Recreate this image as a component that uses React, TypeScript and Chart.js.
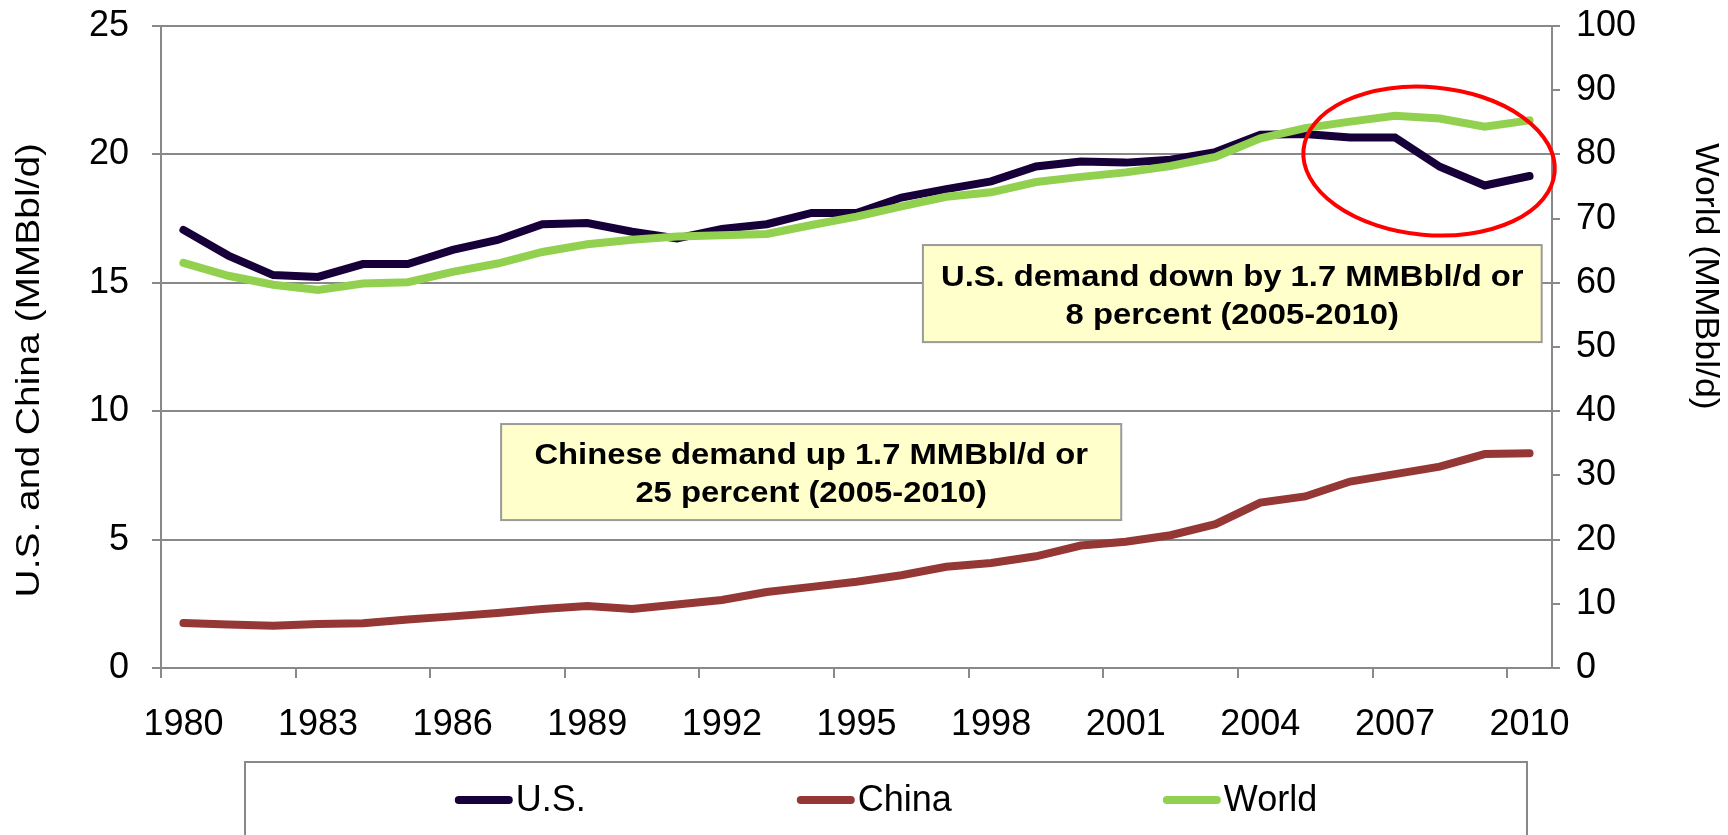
import React, { useEffect, useRef } from "react";
import { Chart, registerables } from "chart.js";

Chart.register(...registerables);

// ---------- data ----------
const years = [
  "1980", "1981", "1982", "1983", "1984", "1985", "1986", "1987", "1988", "1989",
  "1990", "1991", "1992", "1993", "1994", "1995", "1996", "1997", "1998", "1999",
  "2000", "2001", "2002", "2003", "2004", "2005", "2006", "2007", "2008", "2009", "2010",
];
const usDemand = [
  17.06, 16.06, 15.3, 15.23, 15.73, 15.73, 16.28, 16.67, 17.28, 17.33,
  16.99, 16.73, 17.1, 17.28, 17.72, 17.72, 18.32, 18.65, 18.95, 19.53,
  19.72, 19.68, 19.79, 20.09, 20.77, 20.79, 20.66, 20.66, 19.52, 18.79, 19.16,
];
const chinaDemand = [
  1.75, 1.69, 1.65, 1.71, 1.74, 1.89, 2.01, 2.14, 2.3, 2.41,
  2.3, 2.47, 2.65, 2.96, 3.16, 3.36, 3.61, 3.94, 4.09, 4.35,
  4.77, 4.92, 5.17, 5.6, 6.44, 6.68, 7.26, 7.55, 7.84, 8.33, 8.36,
];
const worldDemand = [
  63.1, 61.1, 59.7, 58.9, 59.9, 60.1, 61.7, 63.0, 64.8, 66.0,
  66.7, 67.2, 67.4, 67.6, 69.0, 70.3, 71.9, 73.4, 74.1, 75.7,
  76.5, 77.2, 78.2, 79.6, 82.5, 84.1, 85.1, 86.0, 85.6, 84.3, 85.3,
];
const seriesNames = ["U.S.", "China", "World"];
const seriesColors = ["#17003A", "#953735", "#92D050"];
const leftAxisTitle = "U.S. and China (MMBbl/d)";
const rightAxisTitle = "World (MMBbl/d)";
const labelEvery = 3;

// annotation boxes in data units (x: category index, y: left-axis value)
const noteUS = ["U.S. demand down by 1.7 MMBbl/d or", "8 percent (2005-2010)"];
const noteChina = ["Chinese demand up 1.7 MMBbl/d or", "25 percent (2005-2010)"];
const noteBoxes = [
  { lines: noteUS, x0: 16.48, x1: 30.27, y0: 16.47, y1: 12.69 },
  { lines: noteChina, x0: 7.08, x1: 20.9, y0: 9.5, y1: 5.76 },
];
// red ellipse in data units
const highlight = { cx: 27.76, cy: 19.74, rx: 2.81, ry: 2.88, rotation: 0.09 };

const FONT = "'Liberation Sans', Arial, Helvetica, sans-serif";
const GRID = "#898989";

function stretchedText(ctx: CanvasRenderingContext2D, text: string, x: number, y: number, sx: number) {
  ctx.save();
  ctx.translate(x, y);
  ctx.scale(sx, 1);
  ctx.fillText(text, 0, 0);
  ctx.restore();
}

const decorPlugin = {
  id: "decor",
  afterDraw(chart: any) {
    const ctx: CanvasRenderingContext2D = chart.ctx;
    const xs = chart.scales.x;
    const ys = chart.scales.y;

    // annotation boxes
    for (const b of noteBoxes) {
      const l = xs.getPixelForValue(b.x0);
      const r = xs.getPixelForValue(b.x1);
      const t = ys.getPixelForValue(b.y0);
      const bt = ys.getPixelForValue(b.y1);
      ctx.save();
      ctx.fillStyle = "#FFFFCC";
      ctx.fillRect(l, t, r - l, bt - t);
      ctx.strokeStyle = "#9A9A9A";
      ctx.lineWidth = 2;
      ctx.strokeRect(l, t, r - l, bt - t);
      ctx.fillStyle = "#000";
      ctx.font = `bold 29px ${FONT}`;
      ctx.textAlign = "center";
      ctx.textBaseline = "alphabetic";
      const cx = (l + r) / 2;
      const cy = (t + bt) / 2;
      stretchedText(ctx, b.lines[0], cx, cy - 8, 1.13);
      stretchedText(ctx, b.lines[1], cx, cy + 30, 1.13);
      ctx.restore();
    }

    // red ellipse
    {
      const cx = xs.getPixelForValue(highlight.cx);
      const cy = ys.getPixelForValue(highlight.cy);
      const rx = Math.abs(xs.getPixelForValue(highlight.cx + highlight.rx) - cx);
      const ry = Math.abs(ys.getPixelForValue(highlight.cy + highlight.ry) - cy);
      ctx.save();
      ctx.beginPath();
      ctx.ellipse(cx, cy, rx, ry, highlight.rotation, 0, Math.PI * 2);
      ctx.strokeStyle = "#FF0000";
      ctx.lineWidth = 4;
      ctx.stroke();
      ctx.restore();
    }

    // axis titles
    ctx.save();
    ctx.fillStyle = "#000";
    ctx.font = `33px ${FONT}`;
    ctx.textBaseline = "middle";
    // left (reads bottom to top)
    ctx.save();
    ctx.translate(30, 143);
    ctx.rotate(-Math.PI / 2);
    ctx.scale(1.18, 1);
    ctx.textAlign = "right";
    ctx.fillText(leftAxisTitle, 0, 0);
    ctx.restore();
    // right (reads top to bottom)
    ctx.save();
    ctx.translate(1705, 143);
    ctx.rotate(Math.PI / 2);
    ctx.scale(1.08, 1);
    ctx.textAlign = "left";
    ctx.fillText(rightAxisTitle, 0, 0);
    ctx.restore();
    ctx.restore();

    // legend box
    const boxL = 245, boxR = 1527, boxT = 762;
    ctx.save();
    ctx.strokeStyle = GRID;
    ctx.lineWidth = 2;
    ctx.strokeRect(boxL, boxT, boxR - boxL, 200);
    ctx.font = `36px ${FONT}`;
    ctx.textBaseline = "middle";
    ctx.textAlign = "left";
    const lineLen = 58, txtGap = 3, itemGap = 211, ly = 800;
    const widths = chart.data.datasets.map((d: any) => lineLen + txtGap + ctx.measureText(d.label).width);
    const total = widths.reduce((a: number, b: number) => a + b, 0) + itemGap * (widths.length - 1);
    let x = (boxL + boxR) / 2 - total / 2;
    chart.data.datasets.forEach((d: any, i: number) => {
      ctx.beginPath();
      ctx.lineCap = "round";
      ctx.lineWidth = 8;
      ctx.strokeStyle = d.borderColor;
      ctx.moveTo(x + 4, ly);
      ctx.lineTo(x + lineLen - 4, ly);
      ctx.stroke();
      ctx.fillStyle = "#000";
      ctx.fillText(d.label, x + lineLen + txtGap, ly + 1);
      x += widths[i] + itemGap;
    });
    ctx.restore();
  },
};

export default function App() {
  const ref = useRef<HTMLCanvasElement | null>(null);

  useEffect(() => {
    if (!ref.current) return;
    Chart.defaults.font.family = FONT;
    const tickFont = { size: 36, family: FONT };
    const chart = new Chart(ref.current, {
      type: "line",
      data: {
        labels: years,
        datasets: [
          {
            label: seriesNames[0], data: usDemand, borderColor: seriesColors[0], backgroundColor: seriesColors[0],
            borderWidth: 8, pointRadius: 0, tension: 0, yAxisID: "y", borderCapStyle: "round", order: 1,
          },
          {
            label: seriesNames[1], data: chinaDemand, borderColor: seriesColors[1], backgroundColor: seriesColors[1],
            borderWidth: 8, pointRadius: 0, tension: 0, yAxisID: "y", borderCapStyle: "round", order: 2,
          },
          {
            label: seriesNames[2], data: worldDemand, borderColor: seriesColors[2], backgroundColor: seriesColors[2],
            borderWidth: 8, pointRadius: 0, tension: 0, yAxisID: "y2", borderCapStyle: "round", order: 0,
          },
        ],
      },
      options: {
        responsive: false,
        animation: false,
        devicePixelRatio: 1,
        layout: { padding: { top: 26, left: 0, right: 0, bottom: 0 } },
        plugins: { legend: { display: false }, tooltip: { enabled: false } },
        scales: {
          x: {
            type: "category",
            offset: true,
            grid: {
              offset: true,
              drawOnChartArea: false,
              drawTicks: true,
              tickLength: 10,
              lineWidth: 2,
              color: (c: any) => (c.index % labelEvery === 0 ? GRID : "rgba(0,0,0,0)"),
              tickColor: (c: any) => (c.index % labelEvery === 0 ? GRID : "rgba(0,0,0,0)"),
            },
            border: { display: true, color: GRID, width: 2 },
            ticks: {
              autoSkip: false,
              maxRotation: 0,
              minRotation: 0,
              padding: 25,
              color: "#000",
              font: tickFont,
              callback: (_v: any, i: number) => (i % labelEvery === 0 ? years[i] : ""),
            },
            afterFit: (s: any) => { s.height = 167; s.paddingLeft = 0; s.paddingRight = 0; },
          },
          y: {
            position: "left",
            min: 0,
            max: 25,
            ticks: { stepSize: 5, padding: 23, color: "#000", font: tickFont },
            grid: { color: GRID, lineWidth: 2, drawTicks: true, tickLength: 9 },
            border: { display: true, color: GRID, width: 2 },
            afterFit: (s: any) => { s.width = 161; s.paddingTop = 0; s.paddingBottom = 0; },
          },
          y2: {
            position: "right",
            min: 0,
            max: 100,
            ticks: { stepSize: 10, padding: 16, color: "#000", font: tickFont },
            grid: { drawOnChartArea: false, color: GRID, lineWidth: 2, drawTicks: true, tickLength: 8 },
            border: { display: true, color: GRID, width: 2 },
            afterFit: (s: any) => { s.width = 176; s.paddingTop = 0; s.paddingBottom = 0; },
          },
        },
      },
      plugins: [decorPlugin],
    } as any);
    return () => chart.destroy();
  }, []);

  return (
    <div style={{ position: "fixed", left: 0, top: 0, width: 1728, height: 835, background: "#fff", overflow: "hidden" }}>
      <canvas ref={ref} width={1728} height={835} style={{ display: "block" }} />
    </div>
  );
}
